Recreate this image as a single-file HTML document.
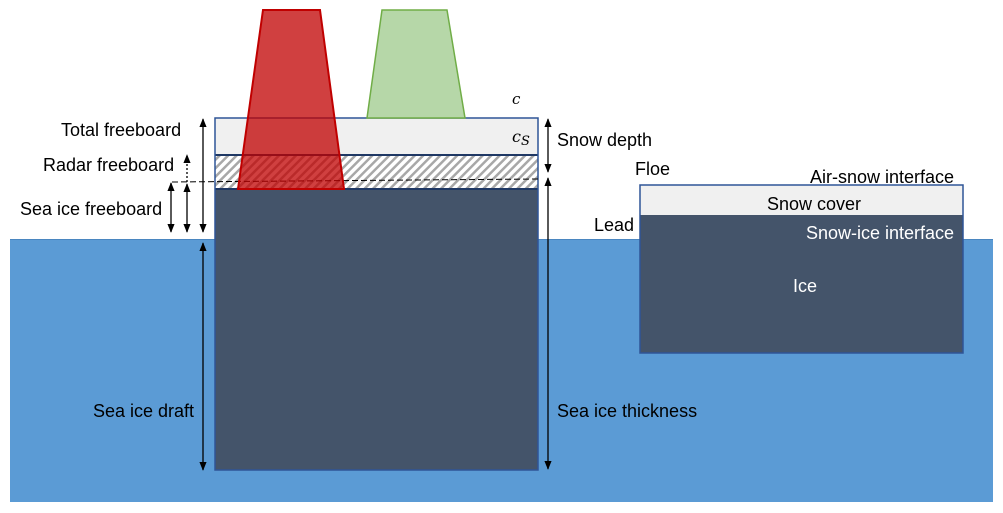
<!DOCTYPE html>
<html><head><style>body{margin:0;background:#fff}svg{display:block}text{font-family:"Liberation Sans",sans-serif;font-size:18px;fill:#000}</style></head><body>
<svg width="1003" height="513" viewBox="0 0 1003 513">
<defs>
<pattern id="h" width="6" height="6" patternUnits="userSpaceOnUse" patternTransform="rotate(45)">
<rect width="6" height="6" fill="#fff"/><rect width="2.5" height="6" fill="#a8a8a8"/></pattern>
<marker id="a" viewBox="0 0 10 10" refX="9" refY="5" markerWidth="7" markerHeight="7" orient="auto-start-reverse"><path d="M0,1 L10,5 L0,9 Z" fill="#000"/></marker>
</defs>
<rect x="10" y="239" width="983" height="263" fill="#5b9bd5"/>
<line x1="10" y1="239.5" x2="993" y2="239.5" stroke="#4a86c0" stroke-width="1"/>
<rect x="215" y="118" width="323" height="37" fill="#f0f0f0"/>
<rect x="215" y="155" width="323" height="34" fill="url(#h)"/>
<rect x="215" y="189" width="323" height="281" fill="#44546a"/>
<line x1="215" y1="155" x2="538" y2="155" stroke="#1f3864" stroke-width="2"/>
<line x1="215" y1="189" x2="538" y2="189" stroke="#1f3864" stroke-width="2"/>
<rect x="215" y="118" width="323" height="352" fill="none" stroke="#2f5597" stroke-width="1.5"/>
<line x1="172" y1="182" x2="538" y2="179" stroke="#000" stroke-dasharray="6,3" stroke-width="1"/>
<polygon points="263,10 320,10 344,189 238,189" fill="#c00000" fill-opacity="0.75" stroke="#c00000" stroke-width="2"/>
<polygon points="382,10 447,10 465,118 367,118" fill="#b6d7a8" stroke="#70ad47" stroke-width="1.5"/>
<rect x="640" y="185" width="323" height="30" fill="#f0f0f0"/>
<rect x="640" y="215" width="323" height="138" fill="#44546a"/>
<rect x="640" y="185" width="323" height="168" fill="none" stroke="#2f5597" stroke-width="1.5"/>
<g stroke="#000" stroke-width="1.3" fill="none">
<line x1="203" y1="119" x2="203" y2="232" marker-start="url(#a)" marker-end="url(#a)"/>
<line x1="187" y1="182" x2="187" y2="155" stroke-dasharray="2,2" marker-end="url(#a)"/>
<line x1="187" y1="184" x2="187" y2="232" marker-start="url(#a)" marker-end="url(#a)"/>
<line x1="171" y1="183" x2="171" y2="232" marker-start="url(#a)" marker-end="url(#a)"/>
<line x1="203" y1="243" x2="203" y2="470" marker-start="url(#a)" marker-end="url(#a)"/>
<line x1="548" y1="119" x2="548" y2="172" marker-start="url(#a)" marker-end="url(#a)"/>
<line x1="548" y1="178" x2="548" y2="469" marker-start="url(#a)" marker-end="url(#a)"/>
</g>
<text x="61" y="136">Total freeboard</text>
<text x="43" y="171">Radar freeboard</text>
<text x="20" y="215">Sea ice freeboard</text>
<text x="93" y="417">Sea ice draft</text>
<text x="557" y="146">Snow depth</text>
<text x="557" y="417">Sea ice thickness</text>
<text x="635" y="175">Floe</text>
<text x="594" y="231">Lead</text>
<text x="810" y="183">Air-snow interface</text>
<text x="767" y="210">Snow cover</text>
<text x="806" y="239" style="fill:#fff">Snow-ice interface</text>
<text x="793" y="292" style="fill:#fff">Ice</text>
<text x="512" y="104" style="font-family:'DejaVu Serif',serif;font-style:italic;font-size:15px">c</text>
<text x="512" y="142" style="font-family:'DejaVu Serif',serif;font-style:italic;font-size:16px">c<tspan dy="3" style="font-size:13px">S</tspan></text>
</svg>
</body></html>
